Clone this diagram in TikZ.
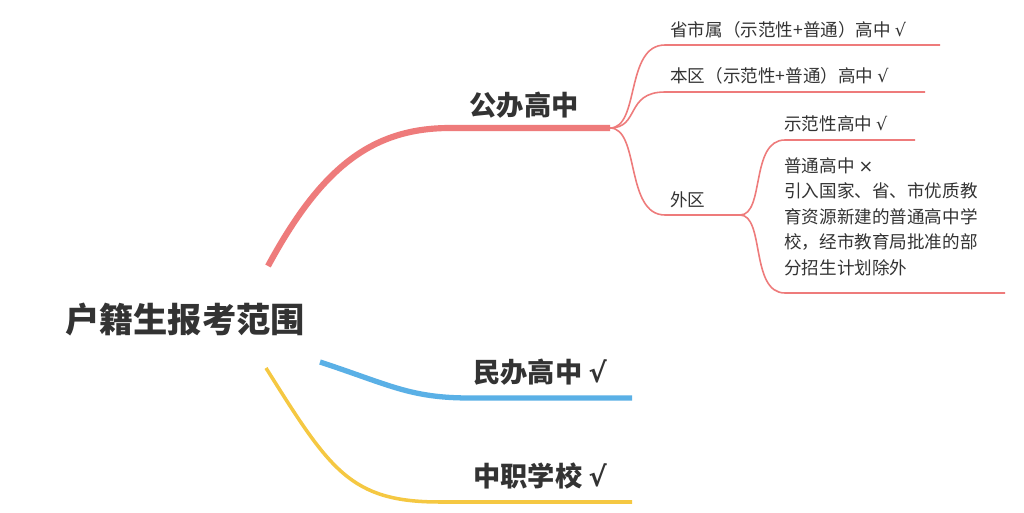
\documentclass[tikz,border=0pt]{standalone}
\usepackage{fontspec}
\setmainfont{Noto Sans CJK SC}
\newfontfamily\symfont{DejaVu Sans}
\usepackage{xcolor}
\usetikzlibrary{positioning,calc}

\definecolor{redline}{HTML}{EE7B7B}
\definecolor{blueline}{HTML}{5AB0E6}
\definecolor{yellowline}{HTML}{F5C842}
\definecolor{txt}{HTML}{333333}

\newcommand{\ok}{{\symfont √}}
\newcommand{\no}{{\symfont ×}}

\tikzset{
  mainlabel/.style={font=\fontsize{15.5}{18}\selectfont\bfseries, text=txt, inner sep=0pt},
  sublabel/.style={font=\fontsize{10}{12}\selectfont, text=txt, inner sep=0pt, anchor=west},
  thinred/.style={redline, line width=0.9pt}
}

\begin{document}
\begin{tikzpicture}[x=0.02cm, y=-0.02cm]
\useasboundingbox (0,0) rectangle (1024,513);
\fill[white] (0,0) rectangle (1024,513);

% root
\node[font=\fontsize{19.5}{22}\selectfont\bfseries, text=txt, inner sep=0pt] (root) at (185,320) {户籍生报考范围};

% anchor points
\coordinate (rs) at (268,266);
\coordinate (rj) at (610,128);
\coordinate (bs) at (320,362);
\coordinate (be) at (632,398);
\coordinate (ys) at (266,368);
\coordinate (ye) at (632,502);
\coordinate (wq) at (740,215);

% main branches
\draw[redline, line width=3.5pt] (rs) .. controls (320,170) and (370,128) .. (450,128) -- (rj);
\draw[blueline, line width=3pt] (bs) .. controls (390,385) and (410,398) .. (470,398) -- (be);
\draw[yellowline, line width=2pt] (ys) .. controls (330,470) and (350,502) .. (440,502) -- (ye);

\node[mainlabel] (gb) at (524,105) {公办高中};
\node[mainlabel] (mb) at (540,372) {民办高中 \ok};
\node[mainlabel] (zz) at (540,476) {中职学校 \ok};

% public high school children
\draw[thinred] (rj) .. controls (640,128) and (625,45) .. (665,45) -- (940,45);
\draw[thinred] (rj) .. controls (640,128) and (625,92) .. (665,92) -- (925,92);
\draw[thinred] (rj) .. controls (640,128) and (625,215) .. (665,215) -- (wq);

\node[sublabel] (ss) at (670,30) {省市属（示范性+普通）高中 \ok};
\node[sublabel] (bq) at (670,76) {本区（示范性+普通）高中 \ok};
\node[sublabel] (wqt) at (670,200) {外区};

% outer district children
\draw[thinred] (wq) .. controls (765,215) and (750,140) .. (785,140) -- (915,140);
\draw[thinred] (wq) .. controls (765,215) and (750,293) .. (785,293) -- (1005,293);

\node[sublabel] (sf) at (784,124) {示范性高中 \ok};
\node[sublabel, anchor=north west, align=left, font=\fontsize{10}{14.5}\selectfont] (pt) at (784,157)
  {普通高中 \no\\引入国家、省、市优质教\\育资源新建的普通高中学\\校，经市教育局批准的部\\分招生计划除外};

\end{tikzpicture}
\end{document}
